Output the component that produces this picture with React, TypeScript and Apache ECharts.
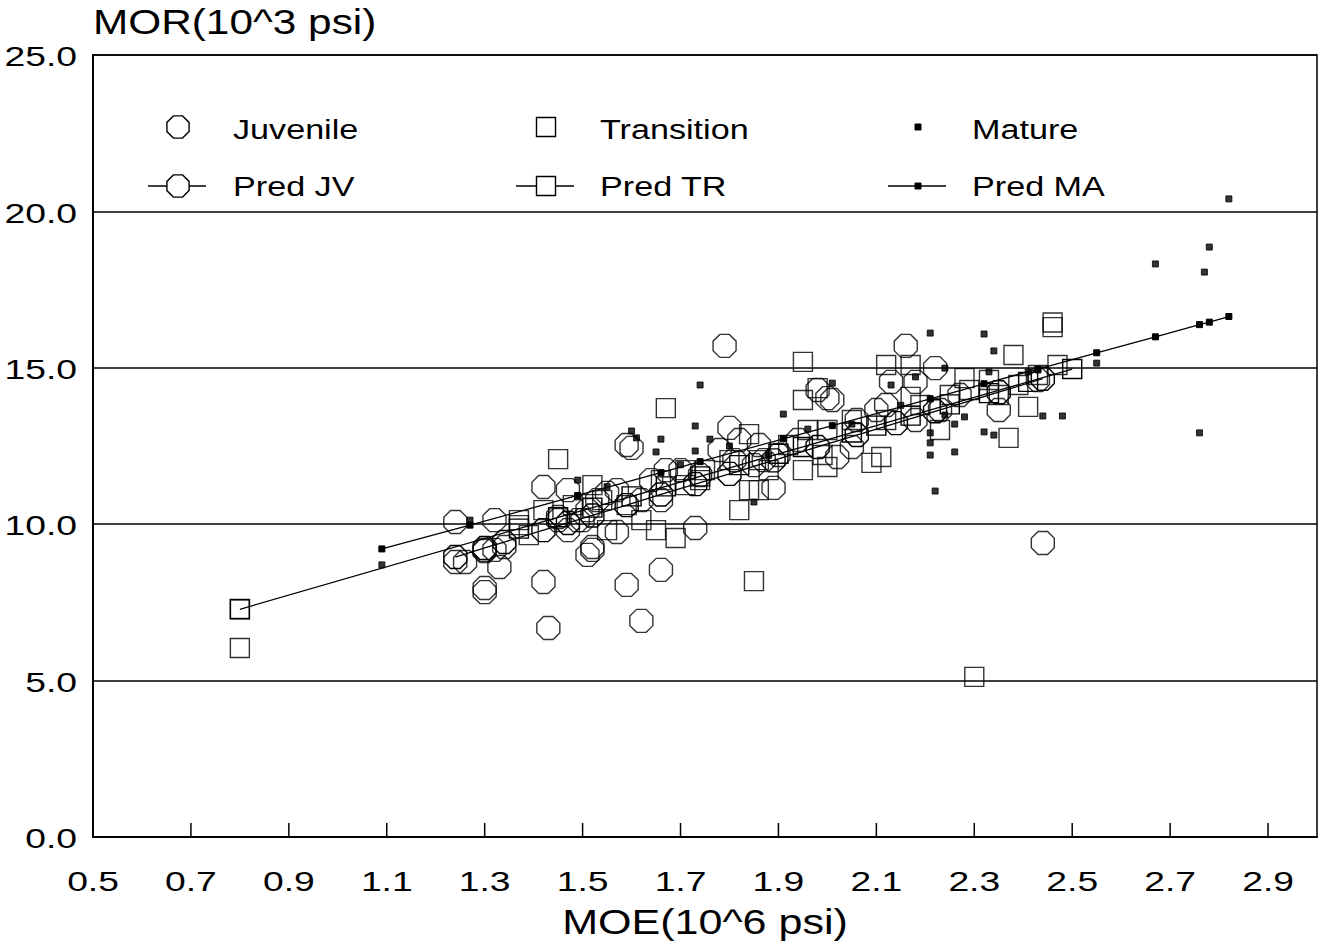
import { useEffect, useRef } from "react";
import * as echarts from "echarts";

// Axis ticks and their labels
const xTicks = [0.5, 0.7, 0.9, 1.1, 1.3, 1.5, 1.7, 1.9, 2.1, 2.3, 2.5, 2.7, 2.9];
const xTickLabels = ["0.5", "0.7", "0.9", "1.1", "1.3", "1.5", "1.7", "1.9", "2.1", "2.3", "2.5", "2.7", "2.9"];
const yTicks = [0, 5, 10, 15, 20, 25];
const yTickLabels = ["0.0", "5.0", "10.0", "15.0", "20.0", "25.0"];

const xTitle = "MOE(10^6 psi)";
const yTitle = "MOR(10^3 psi)";

// Observed MOE / MOR pairs by wood zone
const juvenile: [number, number][] = [
  [1.24, 10.07], [1.26, 8.79], [1.30, 7.96], [1.32, 10.13], [1.34, 9.27], [1.33, 8.63],
  [1.30, 9.14], [1.42, 11.19], [1.42, 8.15], [1.43, 6.68], [1.45, 10.13], [1.47, 11.09],
  [1.51, 9.02], [1.52, 9.27], [1.50, 10.13], [1.59, 12.53], [1.60, 12.44], [1.59, 8.06],
  [1.62, 6.91], [1.66, 8.54], [1.73, 9.88], [1.79, 15.70], [1.80, 13.08], [1.82, 12.69],
  [1.89, 11.16], [1.85, 11.89], [1.98, 14.29], [2.00, 14.03], [2.16, 15.70], [2.13, 14.55],
  [2.18, 14.55], [2.22, 14.99], [2.23, 13.65], [2.35, 13.65], [2.44, 9.40], [2.43, 14.61],
  [1.53, 10.77], [1.57, 11.09], [1.64, 11.41], [1.70, 11.73], [1.78, 12.37], [1.86, 12.53],
  [1.94, 12.69], [2.06, 13.33], [2.12, 13.81], [2.27, 14.13], [1.51, 10.45], [1.47, 9.81],
  [1.57, 9.75], [1.62, 10.77], [1.66, 10.77], [1.74, 11.57], [1.81, 12.05], [1.87, 12.05],
  [1.90, 12.21], [2.02, 12.15], [2.05, 12.47], [2.10, 13.65], [2.18, 13.33], [2.01, 13.97],
  [1.24, 8.79], [1.30, 7.83], [1.30, 9.18], [1.32, 9.18], [1.45, 10.23], [1.49, 10.13],
  [1.52, 9.18], [1.55, 11.00], [1.67, 11.73],
];

const transition: [number, number][] = [
  [0.80, 7.29], [0.80, 6.04], [1.45, 12.08], [1.37, 9.97], [1.39, 9.65], [1.52, 11.25],
  [1.67, 13.71], [1.69, 9.56], [1.82, 10.45], [1.85, 8.18], [1.95, 15.19], [1.95, 13.97],
  [1.98, 14.35], [2.09, 11.96], [2.11, 12.15], [2.12, 15.09], [2.17, 15.09], [2.30, 5.12],
  [2.37, 12.76], [2.38, 15.41], [2.46, 16.30], [2.46, 16.45], [2.41, 13.75], [2.47, 15.09],
  [1.37, 10.13], [1.42, 10.45], [1.48, 10.61], [1.54, 10.77], [1.59, 10.61], [1.66, 11.41],
  [1.71, 11.73], [1.75, 11.73], [1.80, 12.05], [1.86, 12.05], [1.92, 12.53], [1.96, 13.01],
  [2.00, 13.01], [2.05, 13.33], [2.12, 13.33], [2.19, 13.81], [2.25, 14.13], [2.29, 14.29],
  [2.33, 14.61], [2.39, 14.45], [2.43, 14.77], [1.55, 9.81], [1.62, 10.13], [1.74, 11.41],
  [1.88, 11.73], [1.86, 11.09], [1.65, 9.81], [1.99, 12.21], [2.23, 13.01], [2.35, 14.13],
  [1.84, 12.88], [1.95, 11.73], [2.00, 11.83], [1.71, 11.25], [1.84, 11.09], [2.28, 14.67],
  [2.17, 14.07],
];

const mature: [number, number][] = [
  [1.09, 8.70], [1.27, 10.13], [1.49, 11.41], [1.49, 10.87], [1.60, 12.98], [1.61, 12.76],
  [1.65, 12.31], [1.66, 12.72], [1.73, 13.14], [1.73, 12.34], [1.74, 14.45], [1.76, 12.72],
  [1.85, 10.71], [1.91, 13.52], [1.96, 13.04], [2.01, 14.51], [2.13, 14.45], [2.18, 14.71],
  [2.21, 16.11], [2.21, 12.92], [2.21, 12.60], [2.21, 12.21], [2.22, 11.06], [2.24, 13.49],
  [2.24, 14.99], [2.26, 12.31], [2.26, 13.20], [2.28, 13.43], [2.32, 16.08], [2.32, 12.95],
  [2.34, 12.85], [2.34, 15.54], [2.33, 14.87], [2.41, 14.87], [2.43, 14.93], [2.44, 13.46],
  [2.48, 13.46], [2.55, 15.15], [2.67, 18.32], [2.76, 12.92], [2.77, 18.06], [2.78, 18.86],
  [2.82, 20.40], [1.55, 11.20], [1.70, 11.90], [1.80, 12.50], [1.88, 12.20], [2.05, 13.20],
  [2.15, 13.80],
];

// Fitted MOR for each zone
const predJV: [number, number][] = [
  [1.24, 8.95], [1.30, 9.24], [1.34, 9.43], [1.42, 9.81], [1.47, 10.04], [1.52, 10.28],
  [1.59, 10.61], [1.66, 10.95], [1.73, 11.28], [1.80, 11.61], [1.89, 12.04], [1.98, 12.47],
  [2.06, 12.85], [2.14, 13.23], [2.22, 13.61], [2.35, 14.22], [2.44, 14.65],
];

const predTR: [number, number][] = [
  [0.80, 7.28], [1.37, 9.86], [1.45, 10.22], [1.52, 10.53], [1.60, 10.89], [1.67, 11.21],
  [1.74, 11.53], [1.82, 11.89], [1.90, 12.25], [1.95, 12.47], [2.05, 12.93], [2.10, 13.15],
  [2.17, 13.47], [2.25, 13.83], [2.33, 14.19], [2.41, 14.55], [2.50, 14.96],
];

const predMA: [number, number][] = [
  [1.09, 9.21], [1.27, 9.97], [1.49, 10.92], [1.66, 11.65], [1.74, 12.00], [1.91, 12.73],
  [2.01, 13.15], [2.21, 14.01], [2.32, 14.49], [2.43, 14.96], [2.55, 15.48], [2.67, 15.99],
  [2.76, 16.38], [2.78, 16.46], [2.82, 16.64],
];

const FONT = '"Liberation Sans", Arial, Helvetica, sans-serif';
const OCTAGON =
  "path://M192.4 138.3L138.3 192.4L61.7 192.4L7.6 138.3L7.6 61.7L61.7 7.6L138.3 7.6L192.4 61.7Z";
const HOLLOW = { color: "rgba(0,0,0,0)", borderColor: "#000", borderWidth: 1.4 };
const SOLID = { color: "#000", borderColor: "#000", borderWidth: 1 };

function octagonPoints(cx: number, cy: number, r: number): number[][] {
  const pts: number[][] = [];
  for (let k = 0; k < 8; k++) {
    const a = ((22.5 + k * 45) * Math.PI) / 180;
    pts.push([cx + r * Math.cos(a), cy + r * Math.sin(a)]);
  }
  return pts;
}

function label(text: string, x: number, y: number, align: string, size: number, sx: number) {
  return {
    type: "text",
    x,
    y,
    scaleX: sx,
    silent: true,
    z: 10,
    style: {
      text,
      fill: "#000",
      font: `${size}px ${FONT}`,
      align,
      verticalAlign: "middle",
      textAlign: align,
      textVerticalAlign: "middle",
    },
  };
}

export default function App() {
  const ref = useRef<HTMLDivElement>(null);

  useEffect(() => {
    if (!ref.current) return;
    const chart = echarts.init(ref.current, undefined, { renderer: "svg" });

    const lineSeries = (name: string, data: [number, number][], symbol: string, size: number, item: object) => ({
      name,
      type: "line",
      data,
      symbol,
      symbolSize: size,
      showSymbol: true,
      lineStyle: { color: "#000", width: 1.3 },
      itemStyle: item,
      silent: true,
      z: 2,
    });
    const scatterSeries = (name: string, data: [number, number][], symbol: string, size: number, item: object) => ({
      name,
      type: "scatter",
      data,
      symbol,
      symbolSize: size,
      itemStyle: item,
      silent: true,
      z: 3,
    });

    chart.setOption({
      animation: false,
      backgroundColor: "#fff",
      grid: {
        left: 93,
        right: 3,
        top: 55,
        bottom: 111,
        show: true,
        borderColor: "#000",
        borderWidth: 1.5,
        backgroundColor: "rgba(0,0,0,0)",
      },
      xAxis: {
        type: "value",
        min: 0.5,
        max: 3.0,
        interval: 0.1,
        axisLine: { show: true, onZero: false, lineStyle: { color: "#000", width: 2 } },
        axisTick: { show: false },
        axisLabel: { show: false },
        splitLine: { show: false },
      },
      yAxis: {
        type: "value",
        min: 0,
        max: 25,
        interval: 5,
        axisLine: { show: true, onZero: false, lineStyle: { color: "#000", width: 2 } },
        axisTick: { show: false },
        axisLabel: { show: false },
        splitLine: { show: true, lineStyle: { color: "#000", width: 1.5 } },
      },
      series: [
        lineSeries("Pred JV", predJV, OCTAGON, 23, HOLLOW),
        lineSeries("Pred TR", predTR, "rect", 19, HOLLOW),
        lineSeries("Pred MA", predMA, "rect", 6, SOLID),
        scatterSeries("Juvenile", juvenile, OCTAGON, 23, HOLLOW),
        scatterSeries("Transition", transition, "rect", 19, HOLLOW),
        scatterSeries("Mature", mature, "rect", 6, SOLID),
      ],
    });

    const px = (v: number) => chart.convertToPixel({ xAxisIndex: 0 }, v) as number;
    const py = (v: number) => chart.convertToPixel({ yAxisIndex: 0 }, v) as number;
    const y0 = py(0);
    const x0 = px(0.5);

    const elements: any[] = [];

    // x ticks (inside, pointing up) and labels
    xTicks.forEach((v, i) => {
      const x = px(v);
      elements.push({
        type: "line",
        silent: true,
        z: 5,
        shape: { x1: x, y1: y0, x2: x, y2: y0 - 14 },
        style: { stroke: "#000", lineWidth: 1.5 },
      });
      elements.push(label(xTickLabels[i], x, y0 + 45, "center", 27, 1.38));
    });

    // y labels
    yTicks.forEach((v, i) => {
      elements.push(label(yTickLabels[i], x0 - 16, py(v) + 2, "right", 27, 1.38));
    });

    // axis titles
    elements.push(label(yTitle, x0, 22, "left", 35, 1.21));
    elements.push(label(xTitle, 705, 922, "center", 35, 1.23));

    // legend: three columns, two rows
    const cols = [
      { sx: 178, tx: 233, obs: "Juvenile", pred: "Pred JV", kind: "oct" },
      { sx: 546, tx: 600, obs: "Transition", pred: "Pred TR", kind: "sq" },
      { sx: 918, tx: 972, obs: "Mature", pred: "Pred MA", kind: "dot" },
    ];
    const row1 = 127;
    const row2 = 186;
    const marker = (kind: string, cx: number, cy: number) => {
      if (kind === "oct") {
        return {
          type: "polygon",
          silent: true,
          z: 6,
          shape: { points: octagonPoints(cx, cy, 12) },
          style: { fill: "#fff", stroke: "#000", lineWidth: 1.4 },
        };
      }
      if (kind === "sq") {
        return {
          type: "rect",
          silent: true,
          z: 6,
          shape: { x: cx - 9.5, y: cy - 9.5, width: 19, height: 19 },
          style: { fill: "#fff", stroke: "#000", lineWidth: 1.4 },
        };
      }
      return {
        type: "rect",
        silent: true,
        z: 6,
        shape: { x: cx - 3, y: cy - 3, width: 6, height: 6 },
        style: { fill: "#000", stroke: "#000", lineWidth: 1 },
      };
    };
    cols.forEach((c) => {
      elements.push(marker(c.kind, c.sx, row1));
      elements.push({
        type: "line",
        silent: true,
        z: 5,
        shape: { x1: c.sx - 30, y1: row2, x2: c.sx + 28, y2: row2 },
        style: { stroke: "#000", lineWidth: 1.3 },
      });
      elements.push(marker(c.kind, c.sx, row2));
      elements.push(label(c.obs, c.tx, row1 + 3, "left", 28, 1.22));
      elements.push(label(c.pred, c.tx, row2 + 1, "left", 28, 1.22));
    });

    chart.setOption({ graphic: { elements } });

    return () => chart.dispose();
  }, []);

  return (
    <div
      ref={ref}
      style={{ position: "absolute", left: 0, top: 0, width: 1320, height: 948, background: "#fff" }}
    />
  );
}
